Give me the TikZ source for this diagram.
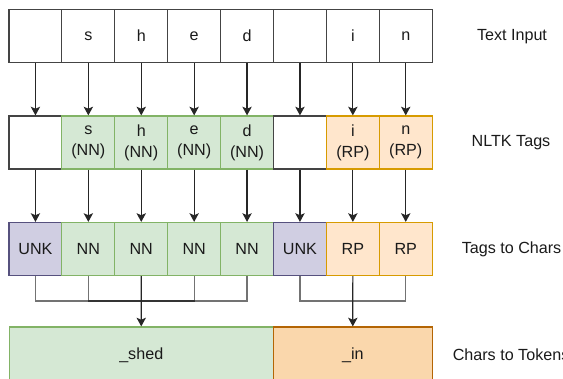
\documentclass[tikz,border=0pt]{standalone}
\usepackage{fontspec}
\setmainfont{Liberation Sans}
\usetikzlibrary{arrows.meta}
\definecolor{greenF}{HTML}{D5E8D4}
\definecolor{greenS}{HTML}{82B366}
\definecolor{orangeF}{HTML}{FFE6CC}
\definecolor{orangeS}{HTML}{D79B00}
\definecolor{purpleF}{HTML}{D0CEE2}
\definecolor{purpleS}{HTML}{56517E}
\definecolor{tokenF}{HTML}{FAD7AC}
\definecolor{tokenS}{HTML}{B46504}
\definecolor{lineC}{HTML}{444444}
\definecolor{txt}{HTML}{1A1A1A}
\begin{document}
\begin{tikzpicture}[x=0.75pt,y=-0.75pt,
  font=\fontsize{12.1}{15.5}\selectfont,
  cell/.style={draw=lineC, fill=white, line width=0.9pt, minimum width=39.7pt,
    minimum height=39.75pt, inner sep=0pt, align=center, text=txt},
  nn/.style={cell, fill=greenF, draw=greenS},
  rp/.style={cell, fill=orangeF, draw=orangeS},
  unk/.style={cell, fill=purpleF, draw=purpleS},
  token/.style={cell, minimum height=42pt},
  arrow/.style={draw=black!85, line width=0.9pt, -{Stealth[width=7pt,length=6.5pt,inset=1.5pt]}},
  link/.style={draw=black, draw opacity=0.55, line width=0.9pt},
  rowlabel/.style={text=txt, inner sep=0pt}]
\useasboundingbox (0,0) rectangle (563,378);
\clip (0,0) rectangle (563,378);

% text input row
\foreach \i/\t in {1/,2/s,3/h,4/e,5/d,6/,7/i,8/n}
  \node[cell] (t\i) at ({9+(\i-0.5)*52.9},36) {\t};

% NLTK tags row
\node[cell] (g1) at ({9+0.5*52.9},142.5) {};
\foreach \i/\t in {2/s,3/h,4/e,5/d}
  \node[nn] (g\i) at ({9+(\i-0.5)*52.9},142.5) {\t\\(NN)};
\node[cell] (g6) at ({9+5.5*52.9},142.5) {};
\foreach \i/\t in {7/i,8/n}
  \node[rp] (g\i) at ({9+(\i-0.5)*52.9},142.5) {\t\\(RP)};

% tags mapped to characters
\node[unk] (c1) at ({9+0.5*52.9},249) {UNK};
\foreach \i in {2,3,4,5}
  \node[nn] (c\i) at ({9+(\i-0.5)*52.9},249) {NN};
\node[unk] (c6) at ({9+5.5*52.9},249) {UNK};
\foreach \i in {7,8}
  \node[rp] (c\i) at ({9+(\i-0.5)*52.9},249) {RP};

% merged tokens
\node[token, fill=greenF, draw=greenS, minimum width=198pt] (k1) at (141.25,355) {\_shed};
\node[token, fill=tokenF, draw=tokenS, minimum width=119pt] (k2) at (352.8,355) {\_in};

% row captions
\node[rowlabel] (l1) at (512,37) {Text Input};
\node[rowlabel] (l2) at (511,143) {NLTK Tags};
\node[rowlabel, anchor=west] (l3) at (461.5,249) {Tags to Chars};
\node[rowlabel, anchor=west] (l4) at (452.5,355) {Chars to Tokens};

% characters to tags
\foreach \i in {1,...,8}
  \draw[arrow] (t\i.south) -- (g\i.north);
% tags to characters
\foreach \i in {1,...,8}
  \draw[arrow] (g\i.south) -- (c\i.north);

% grouping into tokens
\coordinate (bL) at (0,301);
\coordinate (j1) at (c3.south |- bL);
\coordinate (j2) at (c7.south |- bL);
\foreach \i in {1,2,4,5}
  \draw[link] (c\i.south) |- (j1);
\draw[arrow] (c3.south) -- (k1.north);
\foreach \i in {6,8}
  \draw[link] (c\i.south) |- (j2);
\draw[arrow] (c7.south) -- (k2.north);
\end{tikzpicture}
\end{document}
